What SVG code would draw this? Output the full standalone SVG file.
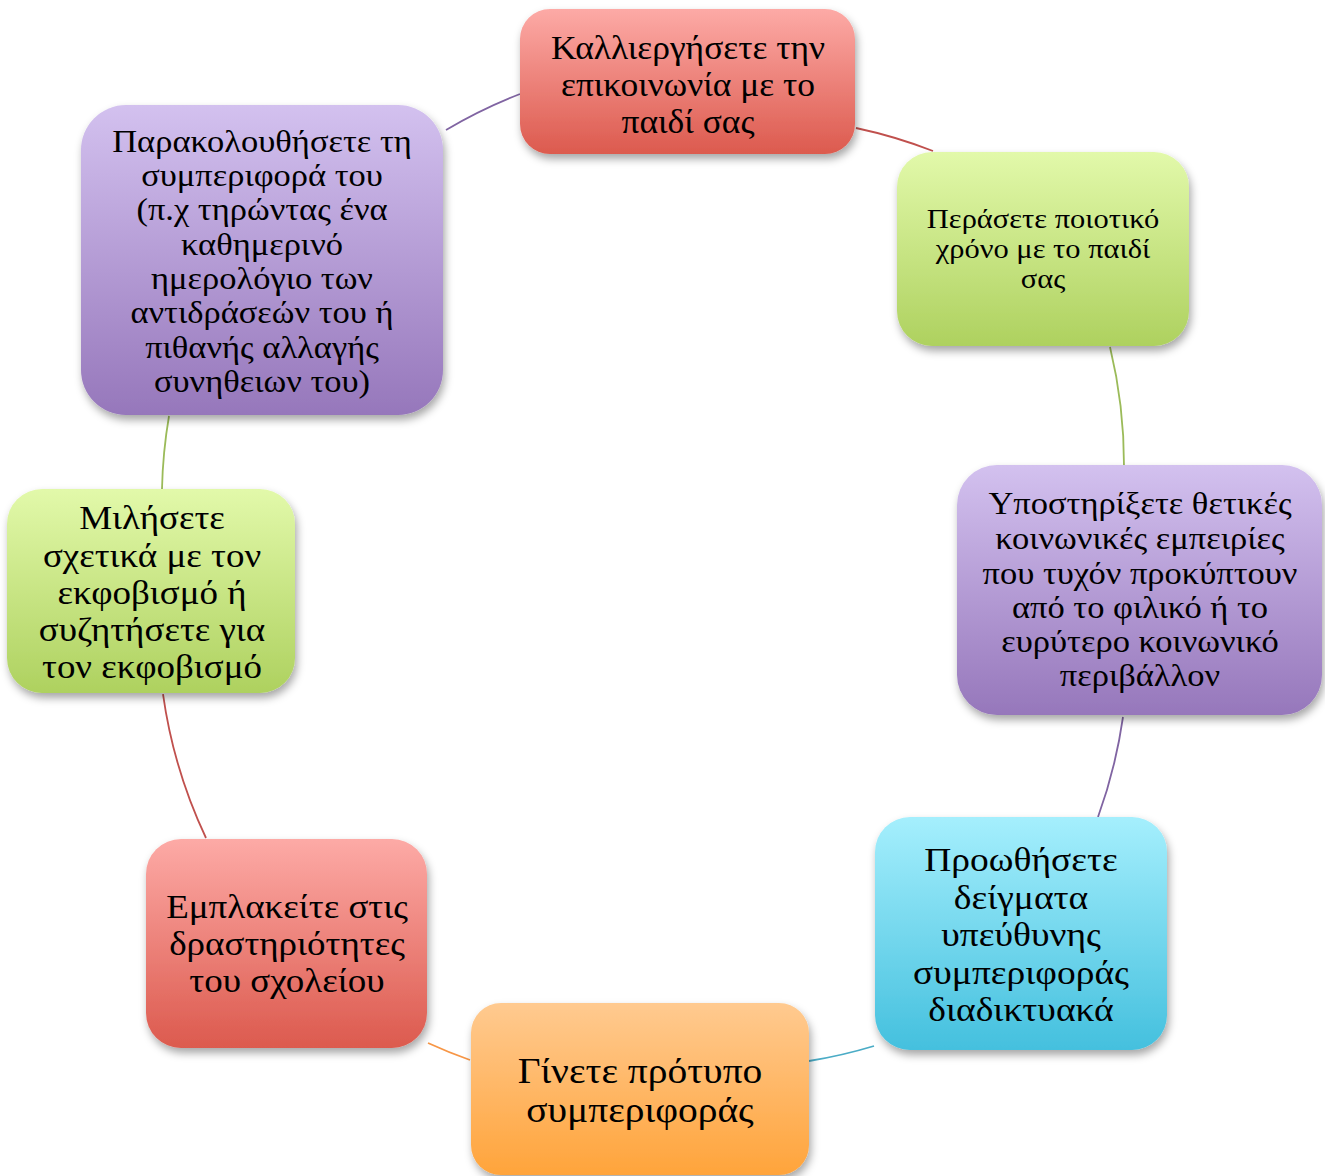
<svg xmlns="http://www.w3.org/2000/svg" width="1325" height="1176" viewBox="0 0 1325 1176">
<defs>
<linearGradient id="gRed" x1="0" y1="0" x2="0" y2="1"><stop offset="0" stop-color="#fdaaa6"/><stop offset="1" stop-color="#dc5a4e"/></linearGradient>
<linearGradient id="gGreen" x1="0" y1="0" x2="0" y2="1"><stop offset="0" stop-color="#e2f9aa"/><stop offset="1" stop-color="#aed15f"/></linearGradient>
<linearGradient id="gPurple" x1="0" y1="0" x2="0" y2="1"><stop offset="0" stop-color="#d3c1ef"/><stop offset="1" stop-color="#9677bb"/></linearGradient>
<linearGradient id="gCyan" x1="0" y1="0" x2="0" y2="1"><stop offset="0" stop-color="#a5effd"/><stop offset="1" stop-color="#44c0de"/></linearGradient>
<linearGradient id="gOrange" x1="0" y1="0" x2="0" y2="1"><stop offset="0" stop-color="#ffca90"/><stop offset="1" stop-color="#ffa43b"/></linearGradient>
<filter id="sh" x="-10%" y="-10%" width="125%" height="130%"><feDropShadow dx="2" dy="5" stdDeviation="4" flood-color="#000" flood-opacity="0.35"/></filter>
</defs>
<style>
.box{filter:url(#sh)}
text{font-family:"Liberation Serif","Times New Roman",serif;fill:#000;text-anchor:middle}
.c{fill:none;stroke-width:1.8}
</style>
<g id="connectors">
<path class="c" stroke="#8064a2" d="M446,130 A500,500 0 0 1 520,94"/>
<path class="c" stroke="#c0504d" d="M856,128 A500,500 0 0 1 933,151"/>
<path class="c" stroke="#9bbb59" d="M1110,347 A500,500 0 0 1 1124,466"/>
<path class="c" stroke="#8064a2" d="M1123,717 A500,500 0 0 1 1098,817"/>
<path class="c" stroke="#4bacc6" d="M874,1046 A500,500 0 0 1 809,1061"/>
<path class="c" stroke="#f79646" d="M470,1060 A500,500 0 0 1 428,1043"/>
<path class="c" stroke="#c0504d" d="M206,838 A500,500 0 0 1 163,694"/>
<path class="c" stroke="#9bbb59" d="M162,489 A500,500 0 0 1 169,416"/>
</g>
<g id="node1">
<rect class="box" x="520" y="9" width="335" height="145" rx="30" fill="url(#gRed)"/>
<g transform="translate(688,0) scale(1.035,1)"><text font-size="34.3"><tspan x="0" y="59">Καλλιεργήσετε την</tspan><tspan x="0" y="96">επικοινωνία με το</tspan><tspan x="0" y="133">παιδί σας</tspan></text></g>
</g>
<g id="node2">
<rect class="box" x="897" y="152" width="292" height="194" rx="35" fill="url(#gGreen)"/>
<g transform="translate(1043,0) scale(1.097,1)"><text font-size="27.8"><tspan x="0" y="228">Περάσετε ποιοτικό</tspan><tspan x="0" y="258">χρόνο με το παιδί</tspan><tspan x="0" y="288">σας</tspan></text></g>
</g>
<g id="node3">
<rect class="box" x="957" y="465" width="365" height="250" rx="40" fill="url(#gPurple)"/>
<g transform="translate(1140,0) scale(1.082,1)"><text font-size="31.9"><tspan x="0" y="514">Υποστηρίξετε θετικές</tspan><tspan x="0" y="549">κοινωνικές εμπειρίες</tspan><tspan x="0" y="584">που τυχόν προκύπτουν</tspan><tspan x="0" y="618">από το φιλικό ή το</tspan><tspan x="0" y="652">ευρύτερο κοινωνικό</tspan><tspan x="0" y="686">περιβάλλον</tspan></text></g>
</g>
<g id="node4">
<rect class="box" x="875" y="817" width="292" height="233" rx="35" fill="url(#gCyan)"/>
<g transform="translate(1021,0) scale(1.08,1)"><text font-size="34.7"><tspan x="0" y="871">Προωθήσετε</tspan><tspan x="0" y="909">δείγματα</tspan><tspan x="0" y="946">υπεύθυνης</tspan><tspan x="0" y="984">συμπεριφοράς</tspan><tspan x="0" y="1021">διαδικτυακά</tspan></text></g>
</g>
<g id="node5">
<rect class="box" x="471" y="1003" width="338" height="172" rx="30" fill="url(#gOrange)"/>
<g transform="translate(640,0) scale(1.094,1)"><text font-size="36.1"><tspan x="0" y="1083">Γίνετε πρότυπο</tspan><tspan x="0" y="1122">συμπεριφοράς</tspan></text></g>
</g>
<g id="node6">
<rect class="box" x="146" y="839" width="281" height="209" rx="35" fill="url(#gRed)"/>
<g transform="translate(287,0) scale(1.079,1)"><text font-size="34.3"><tspan x="0" y="918">Εμπλακείτε στις</tspan><tspan x="0" y="955">δραστηριότητες</tspan><tspan x="0" y="992">του σχολείου</tspan></text></g>
</g>
<g id="node7">
<rect class="box" x="7" y="489" width="288" height="204" rx="35" fill="url(#gGreen)"/>
<g transform="translate(152,0) scale(1.072,1)"><text font-size="34.5"><tspan x="0" y="529">Μιλήσετε</tspan><tspan x="0" y="567">σχετικά με τον</tspan><tspan x="0" y="604">εκφοβισμό ή</tspan><tspan x="0" y="641">συζητήσετε για</tspan><tspan x="0" y="678">τον εκφοβισμό</tspan></text></g>
</g>
<g id="node8">
<rect class="box" x="81" y="105" width="362" height="310" rx="45" fill="url(#gPurple)"/>
<g transform="translate(262,0) scale(1.085,1)"><text font-size="31.8"><tspan x="0" y="152">Παρακολουθήσετε τη</tspan><tspan x="0" y="186">συμπεριφορά του</tspan><tspan x="0" y="220">(π.χ τηρώντας ένα</tspan><tspan x="0" y="255">καθημερινό</tspan><tspan x="0" y="289">ημερολόγιο των</tspan><tspan x="0" y="323">αντιδράσεών του ή</tspan><tspan x="0" y="358">πιθανής αλλαγής</tspan><tspan x="0" y="392">συνηθειων του)</tspan></text></g>
</g>
</svg>
